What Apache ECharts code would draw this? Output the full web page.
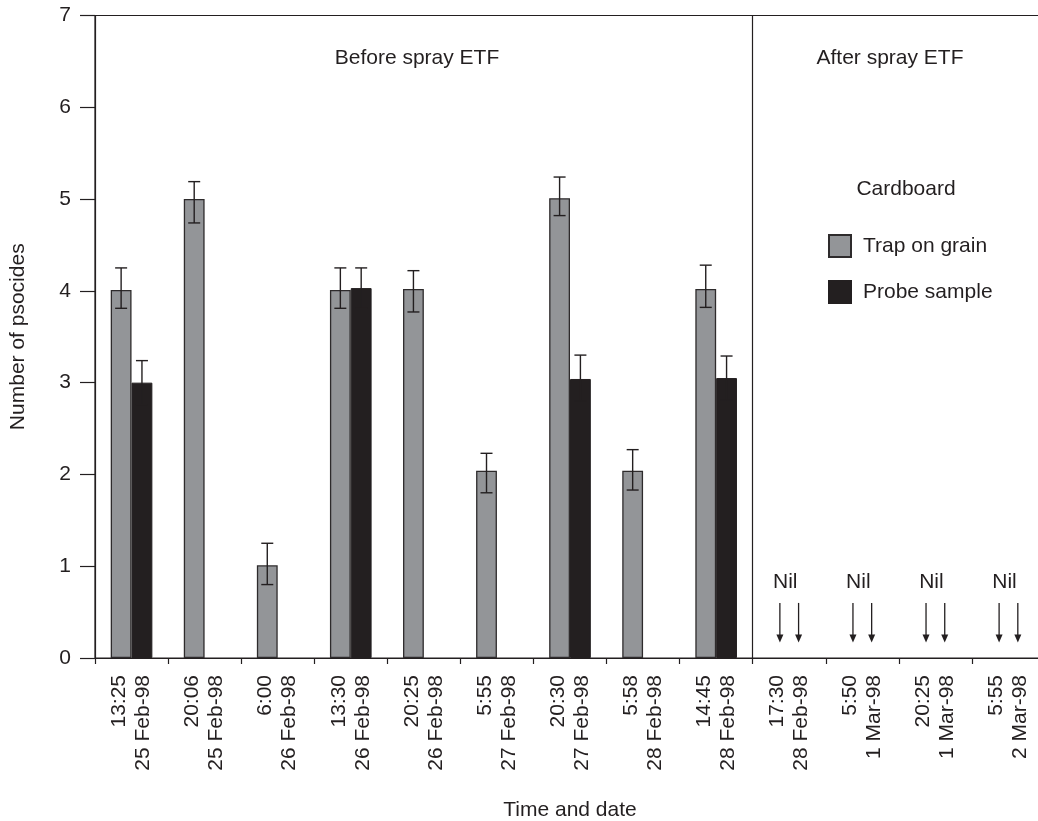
<!DOCTYPE html>
<html><head><meta charset="utf-8">
<script src="https://cdn.jsdelivr.net/npm/echarts@6/dist/echarts.min.js"></script>
<style>html,body{margin:0;padding:0;background:#fff}#c{width:1038px;height:821px}</style>
</head><body><div id="c"></div>
<script>
// ---- data ----
const times = ['13:25','20:06','6:00','13:30','20:25','5:55','20:30','5:58','14:45','17:30','5:50','20:25','5:55'];
const dates = ['25 Feb-98','25 Feb-98','26 Feb-98','26 Feb-98','26 Feb-98','27 Feb-98','27 Feb-98','28 Feb-98','28 Feb-98','28 Feb-98','1 Mar-98','1 Mar-98','2 Mar-98'];
const trapOnGrain = [4.01, 5.0, 1.01, 4.01, 4.02, 2.04, 5.01, 2.04, 4.02, null, null, null, null];
const trapLow     = [3.81, 4.74, 0.80, 3.81, 3.77, 1.80, 4.82, 1.83, 3.82, null, null, null, null];
const trapHigh    = [4.25, 5.19, 1.25, 4.25, 4.22, 2.23, 5.24, 2.27, 4.28, null, null, null, null];
const probeSample = [3.0, null, null, 4.03, null, null, 3.04, null, 3.05, null, null, null, null];
const probeLow    = [2.76, null, null, 3.81, null, null, 2.80, null, 2.81, null, null, null, null];
const probeHigh   = [3.24, null, null, 4.25, null, null, 3.30, null, 3.29, null, null, null, null];
const nilIndex = [9, 10, 11, 12];
const beforeSprayCount = 9;
const seriesNames = ['Trap on grain', 'Probe sample'];
const yTicks = {min: 0, max: 7, interval: 1};

// ---- styling ----
const FONT = "'Liberation Sans', Arial, sans-serif";
const INK = '#231f20';
const FS = 21;
const categories = times.map((t, i) => t + '\n' + dates[i]);
const BAR_OFF = 0.1425;

function errData(lo, hi) {
  const out = [];
  lo.forEach((v, i) => { if (v != null && hi[i] != null) out.push([i, v, hi[i]]); });
  return out;
}
function errorBarRender(frac) {
  return function (params, api) {
    const idx = api.value(0);
    const hi = api.coord([idx, api.value(2)]);
    const lo = api.coord([idx, api.value(1)]);
    const band = api.size([1, 0])[0];
    const x = hi[0] + frac * band;
    const cap = 6;
    const st = {stroke: INK, lineWidth: 1.4};
    return {type: 'group', children: [
      {type: 'line', shape: {x1: x, y1: hi[1], x2: x, y2: lo[1]}, style: st},
      {type: 'line', shape: {x1: x - cap, y1: hi[1], x2: x + cap, y2: hi[1]}, style: st},
      {type: 'line', shape: {x1: x - cap, y1: lo[1], x2: x + cap, y2: lo[1]}, style: st}
    ]};
  };
}
function nilRender(params, api) {
  const idx = api.value(0);
  const t = api.coord([idx, 0.83]);
  const top = api.coord([idx, 0.6])[1];
  const bot = api.coord([idx, 0.17])[1];
  const band = api.size([1, 0])[0];
  const children = [{type: 'text', x: t[0] - 4, y: t[1],
    style: {text: 'Nil', fill: INK, fontSize: FS, fontFamily: FONT, align: 'center', verticalAlign: 'middle'}}];
  [-0.128, 0.128].forEach(f => {
    const x = t[0] + f * band;
    children.push({type: 'line', shape: {x1: x, y1: top, x2: x, y2: bot - 6}, style: {stroke: INK, lineWidth: 1.3}});
    children.push({type: 'polygon', shape: {points: [[x - 3.5, bot - 8], [x + 3.5, bot - 8], [x, bot]]}, style: {fill: INK}});
  });
  return {type: 'group', children};
}

const chart = echarts.init(document.getElementById('c'), null, {renderer: 'canvas'});
chart.setOption({
  animation: false,
  backgroundColor: '#fff',
  textStyle: {fontFamily: FONT, color: INK},
  grid: {left: 95, top: 15.5, width: 950, height: 642.5, outerBoundsMode: 'none', containLabel: false,
         show: true, borderColor: INK, borderWidth: 1.2, backgroundColor: 'transparent'},
  legend: {
    orient: 'vertical', left: 823, top: 229, itemWidth: 22, itemHeight: 22, itemGap: 22,
    icon: 'rect', data: seriesNames,
    textStyle: {fontSize: FS, color: INK, fontFamily: FONT, padding: [0, 0, 0, 7], lineHeight: 22}
  },
  graphic: [
    {type: 'text', x: 417, y: 58, style: {text: 'Before spray ETF', fontSize: FS, fontFamily: FONT, fill: INK, align: 'center', verticalAlign: 'middle'}},
    {type: 'text', x: 890, y: 58, style: {text: 'After spray ETF', fontSize: FS, fontFamily: FONT, fill: INK, align: 'center', verticalAlign: 'middle'}},
    {type: 'text', x: 906, y: 189, style: {text: 'Cardboard', fontSize: FS, fontFamily: FONT, fill: INK, align: 'center', verticalAlign: 'middle'}}
  ],
  xAxis: [{
    type: 'category', data: categories, boundaryGap: true,
    name: 'Time and date', nameLocation: 'middle', nameGap: 142,
    nameTextStyle: {fontSize: FS, color: INK, fontFamily: FONT},
    axisLine: {show: true, lineStyle: {color: INK, width: 1.2}},
    axisTick: {show: true, interval: 0, length: 6, lineStyle: {color: INK, width: 1.2}},
    axisLabel: {interval: 0, rotate: 90, margin: 17, fontSize: FS, color: INK, fontFamily: FONT, lineHeight: 24},
    splitLine: {show: false}
  }, {
    type: 'value', min: 0, max: categories.length, show: false, position: 'bottom'
  }],
  yAxis: {
    type: 'value', min: yTicks.min, max: yTicks.max, interval: yTicks.interval,
    name: 'Number of psocides', nameLocation: 'middle', nameGap: 66, nameRotate: 90,
    nameTextStyle: {fontSize: FS, color: INK, fontFamily: FONT},
    axisLine: {show: true, lineStyle: {color: INK, width: 1.2}},
    axisTick: {show: true, length: 15, lineStyle: {color: INK, width: 1.2}},
    axisLabel: {margin: 24, fontSize: FS, color: INK, fontFamily: FONT},
    splitLine: {show: false}
  },
  series: [
    {name: seriesNames[0], type: 'bar', data: trapOnGrain, barGap: 0, barCategoryGap: '43%',
     itemStyle: {color: '#939598', borderColor: '#2e2b2c', borderWidth: 1.3}},
    {name: seriesNames[1], type: 'bar', data: probeSample, barGap: 0, barCategoryGap: '43%',
     itemStyle: {color: INK, borderColor: INK, borderWidth: 1}},
    {type: 'custom', renderItem: errorBarRender(-BAR_OFF), data: errData(trapLow, trapHigh), z: 5, silent: true},
    {type: 'custom', renderItem: errorBarRender(BAR_OFF), data: errData(probeLow, probeHigh), z: 5, silent: true},
    {type: 'custom', renderItem: nilRender, data: nilIndex.map(i => [i]), z: 5, silent: true},
    {type: 'line', xAxisIndex: 1, data: [], silent: true,
     markLine: {silent: true, symbol: 'none', label: {show: false},
       lineStyle: {color: INK, width: 1.2, type: 'solid'},
       data: [[{coord: [beforeSprayCount, yTicks.min]}, {coord: [beforeSprayCount, yTicks.max]}]]}}
  ]
});
</script></body></html>
